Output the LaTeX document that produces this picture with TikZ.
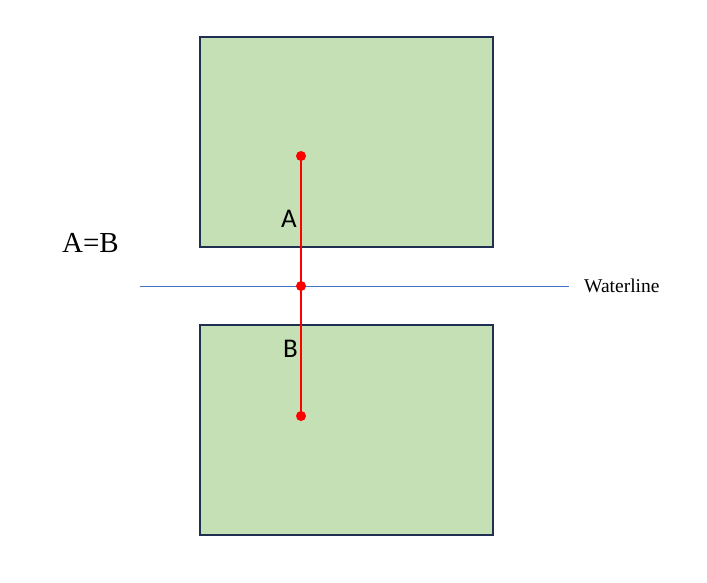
\documentclass[tikz,border=0pt]{standalone}
\usepackage{fontspec}
\setmainfont{Liberation Serif}
\newfontfamily\carl{Carlito}
\definecolor{boxfill}{HTML}{C5E0B4}
\definecolor{boxline}{HTML}{1F3050}
\definecolor{wline}{HTML}{4472C4}
\begin{document}
\begin{tikzpicture}[x=1pt,y=-1pt,
  blk/.style={draw=boxline,fill=boxfill,line width=2pt},
  dot/.style={circle,fill=red,inner sep=0pt,minimum size=10pt},
  rline/.style={draw=red,line width=2pt},
  lbl/.style={inner sep=0pt,anchor=base west}]
\useasboundingbox (0,0) rectangle (707,582);
\draw[blk] (200,37) rectangle (493,246.5);
\draw[blk] (200,325) rectangle (493,535);
\coordinate (wl) at (140,286);
\coordinate (wr) at (569,286);
\draw[wline,line width=1pt] (wl) -- (wr);
\node[dot] (p1) at (301,156) {};
\node[dot] (p2) at (301,286) {};
\node[dot] (p3) at (301,416) {};
\draw[rline] (p1.center) -- (p2.center) -- (p3.center);
\node[lbl] (ab) at (62,252) {\fontsize{29}{29}\selectfont A=B};
\node[lbl] (wt) at (584,292) {\fontsize{19.5}{19.5}\selectfont Waterline};
\node[lbl] (la) at (281,227) {\carl\fontsize{27}{27}\selectfont A};
\node[lbl] (lb) at (283,357) {\carl\fontsize{27}{27}\selectfont B};
\end{tikzpicture}
\end{document}
